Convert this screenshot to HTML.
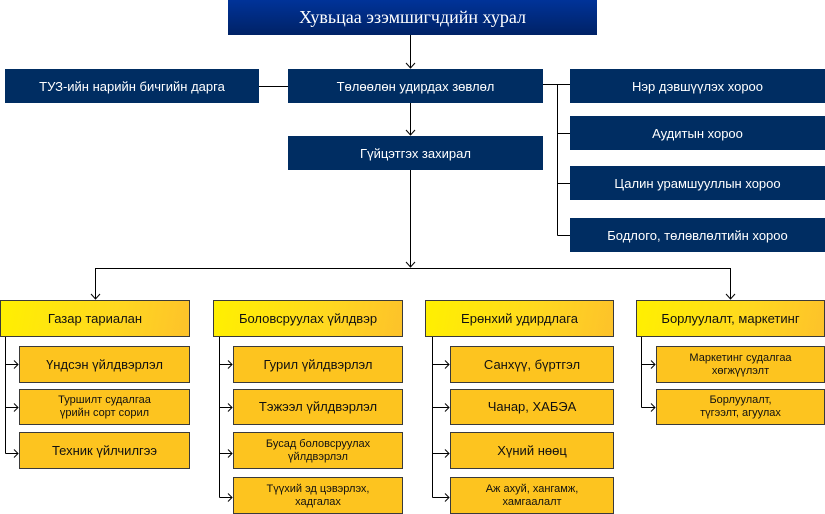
<!DOCTYPE html>
<html><head><meta charset="utf-8"><style>
body{margin:0;width:825px;height:514px;position:relative;background:#fff;overflow:hidden;font-family:"Liberation Sans",sans-serif}
.b{position:absolute;display:flex;align-items:center;justify-content:center;text-align:center;box-sizing:border-box}
.n{background:#002d62;color:#fff;font-size:13px}
.h{background:linear-gradient(100deg,#fff000 0%,#ffd820 60%,#fdc22a 100%);border:1px solid #3a3a3a;font-size:13px;color:#111}
.s{background:#fdc41f;border:1px solid #3a3a3a;font-size:13px;color:#111;line-height:14px}
.sm{font-size:11px;line-height:13px}
svg{position:absolute;left:0;top:0}
</style></head><body>
<svg width="825" height="514" stroke="#000" stroke-width="1" fill="none">
<path d="M410.5 35V68M406 63l4.5 5 4.5-5"/>
<path d="M259 86.5H288"/>
<path d="M543 84.5H557.5M557.5 84V235.5M557.5 84.5H570M557.5 133.5H570M557.5 183.5H570M557.5 235.5H570"/>
<path d="M410.5 103V135M406 130l4.5 5 4.5-5"/>
<path d="M410.5 170V267M406 262l4.5 5 4.5-5"/>
<path d="M95.5 268.5H730.5M95.5 268V299M730.5 268V299M91 294l4.5 5 4.5-5M726 294l4.5 5 4.5-5"/>
<g>
<path d="M5.5 336V453.5"/><path d="M5.5 364.5H18M5.5 407.5H18M5.5 453.5H18"/>
<path d="M219.5 336V497.5"/><path d="M219.5 364.5H232M219.5 407.5H232M219.5 453.5H232M219.5 497.5H232"/>
<path d="M432.5 336V497.5"/><path d="M432.5 364.5H449M432.5 407.5H449M432.5 453.5H449M432.5 497.5H449"/>
<path d="M641.5 336V407.5"/><path d="M641.5 364.5H655M641.5 407.5H655"/>
</g>
<g>
<path d="M14 360.5l4 4-4 4M14 403.5l4 4-4 4M14 449.5l4 4-4 4"/>
<path d="M228 360.5l4 4-4 4M228 403.5l4 4-4 4M228 449.5l4 4-4 4M228 493.5l4 4-4 4"/>
<path d="M445 360.5l4 4-4 4M445 403.5l4 4-4 4M445 449.5l4 4-4 4M445 493.5l4 4-4 4"/>
<path d="M651 360.5l4 4-4 4M651 403.5l4 4-4 4"/>
</g>
</svg>
<div class="b" style="left:228px;top:0;width:369px;height:35px;background:linear-gradient(#003399,#002266);color:#fff;font-family:'Liberation Serif',serif;font-size:18px">Хувьцаа эзэмшигчдийн хурал</div>
<div class="b n" style="left:5px;top:69px;width:254px;height:34px">ТУЗ-ийн нарийн бичгийн дарга</div>
<div class="b n" style="left:288px;top:69px;width:255px;height:34px">Төлөөлөн удирдах зөвлөл</div>
<div class="b n" style="left:288px;top:136px;width:255px;height:34px">Гүйцэтгэх захирал</div>
<div class="b n" style="left:570px;top:69px;width:255px;height:34px">Нэр дэвшүүлэх хороо</div>
<div class="b n" style="left:570px;top:116px;width:255px;height:34px">Аудитын хороо</div>
<div class="b n" style="left:570px;top:166px;width:255px;height:34px">Цалин урамшууллын хороо</div>
<div class="b n" style="left:570px;top:218px;width:255px;height:34px">Бодлого, төлөвлөлтийн хороо</div>

<div class="b h" style="left:0;top:300px;width:190px;height:37px">Газар тариалан</div>
<div class="b h" style="left:213px;top:300px;width:190px;height:37px">Боловсруулах үйлдвэр</div>
<div class="b h" style="left:425px;top:300px;width:189px;height:37px">Ерөнхий удирдлага</div>
<div class="b h" style="left:636px;top:300px;width:189px;height:37px">Борлуулалт, маркетинг</div>

<div class="b s" style="left:19px;top:346px;width:171px;height:37px">Үндсэн үйлдвэрлэл</div>
<div class="b s sm" style="left:19px;top:389px;width:171px;height:36px">Туршилт судалгаа<br>үрийн сорт сорил</div>
<div class="b s" style="left:19px;top:432px;width:171px;height:37px">Техник үйлчилгээ</div>

<div class="b s" style="left:233px;top:346px;width:170px;height:37px">Гурил үйлдвэрлэл</div>
<div class="b s" style="left:233px;top:389px;width:170px;height:36px">Тэжээл үйлдвэрлэл</div>
<div class="b s sm" style="left:233px;top:432px;width:170px;height:37px">Бусад боловсруулах<br>үйлдвэрлэл</div>
<div class="b s sm" style="left:233px;top:477px;width:170px;height:37px">Түүхий эд цэвэрлэх,<br>хадгалах</div>

<div class="b s" style="left:450px;top:346px;width:164px;height:37px">Санхүү, бүртгэл</div>
<div class="b s" style="left:450px;top:389px;width:164px;height:36px">Чанар, ХАБЭА</div>
<div class="b s" style="left:450px;top:432px;width:164px;height:37px">Хүний нөөц</div>
<div class="b s sm" style="left:450px;top:477px;width:164px;height:37px">Аж ахуй, хангамж,<br>хамгаалалт</div>

<div class="b s sm" style="left:656px;top:346px;width:169px;height:37px">Маркетинг судалгаа<br>хөгжүүлэлт</div>
<div class="b s sm" style="left:656px;top:389px;width:169px;height:36px">Борлуулалт,<br>түгээлт, агуулах</div>
</body></html>
